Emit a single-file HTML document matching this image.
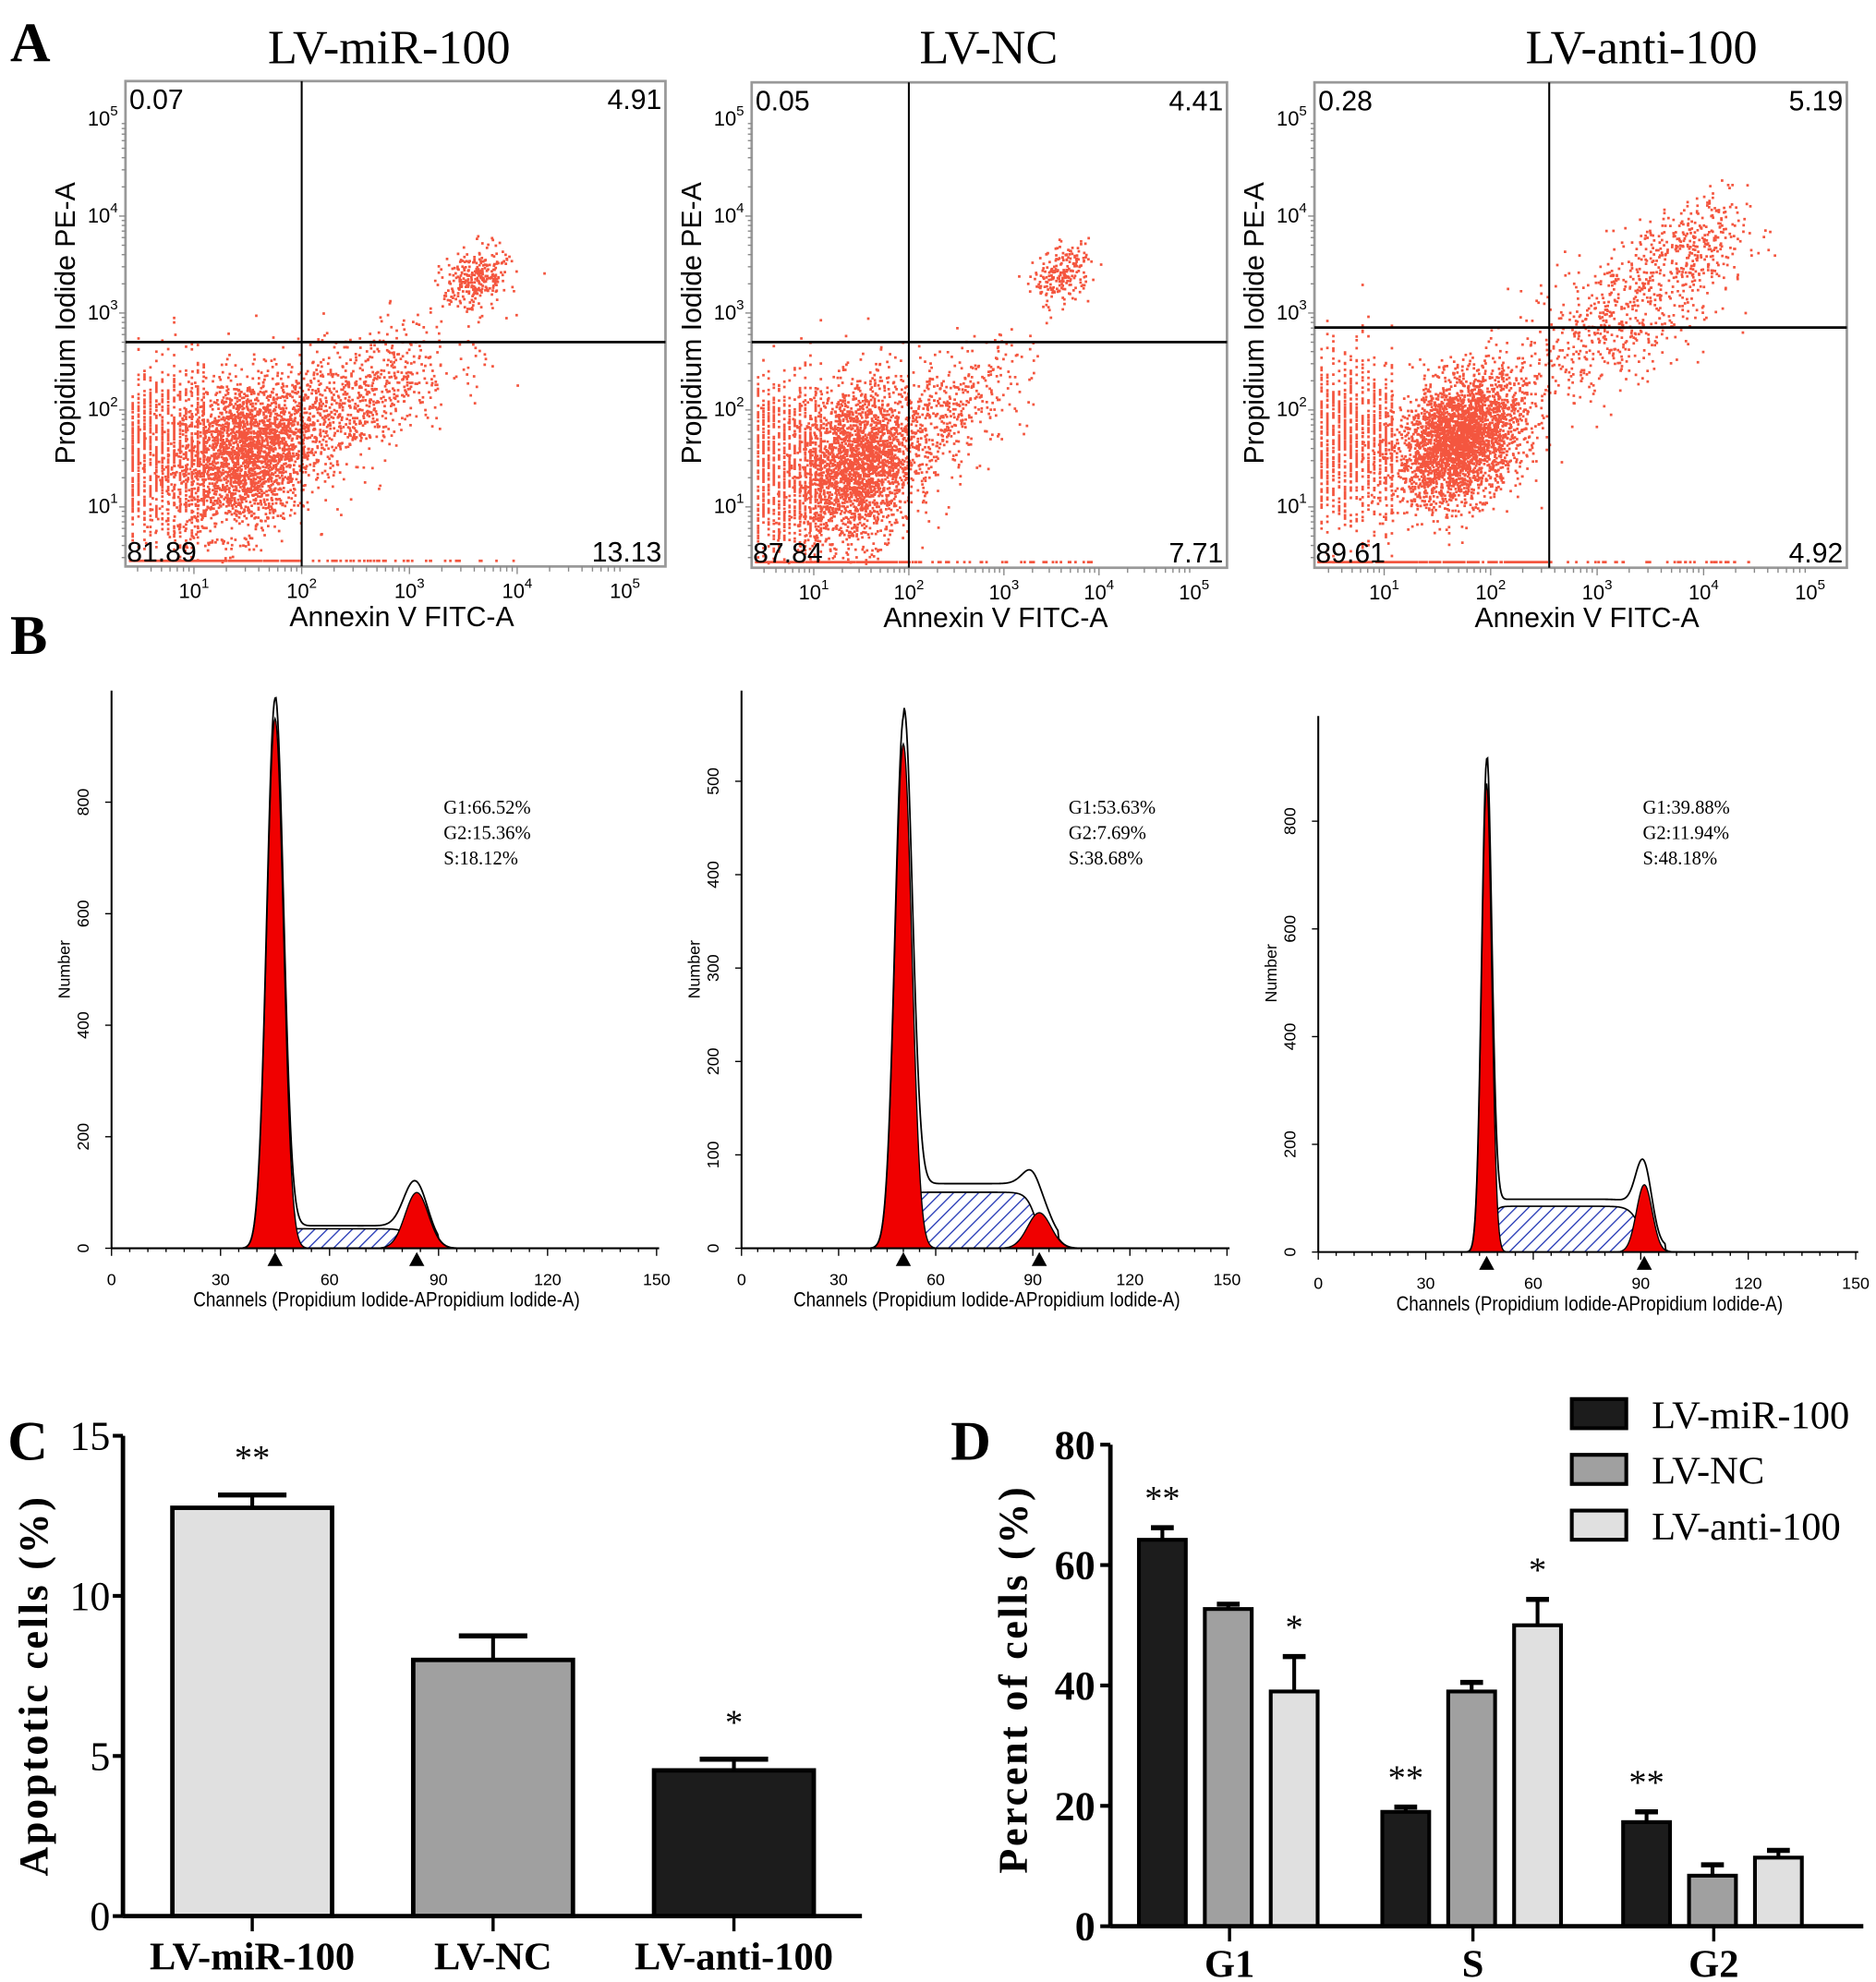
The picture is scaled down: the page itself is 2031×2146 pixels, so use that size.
<!DOCTYPE html>
<html><head><meta charset="utf-8"><style>
html,body{margin:0;padding:0;background:#fff;}
svg{display:block;}
.serif{font-family:"Liberation Serif",serif;}
.sans{font-family:"Liberation Sans",sans-serif;}
</style></head><body>
<svg id="fig" xmlns="http://www.w3.org/2000/svg" width="2031" height="2146" viewBox="0 0 1480 1564" preserveAspectRatio="none">
<defs>
<pattern id="hatch" patternUnits="userSpaceOnUse" width="7" height="7" patternTransform="rotate(45)">
<rect width="7" height="7" fill="#fff"/><line x1="0" y1="0" x2="0" y2="7" stroke="#2b3fb8" stroke-width="2"/>
</pattern>
</defs>
<text class="serif" x="8" y="48" font-size="44" font-weight="bold">A</text>
<text class="serif" x="8" y="516" font-size="44" font-weight="bold">B</text>
<text class="serif" x="6" y="1152" font-size="44" font-weight="bold">C</text>
<text class="serif" x="750" y="1152" font-size="44" font-weight="bold">D</text>
<g id="panelA"></g>
<g id="panelB"></g>
<g id="panelC"></g>
<g id="panelD"></g>
</svg>
<script>
// ---------- Panel A data ----------
const flowTitles = ["LV-miR-100", "LV-NC", "LV-anti-100"];
const flowQuadUL = ["0.07", "0.05", "0.28"];
const flowQuadUR = ["4.91", "4.41", "5.19"];
const flowQuadLL = ["81.89", "87.84", "89.61"];
const flowQuadLR = ["13.13", "7.71", "4.92"];
const flowGateX = [2.0, 2.0, 2.55];   // decades
const flowGateY = [2.7, 2.7, 2.85];
// clusters: [cx, cy, sx, sy, n, corr] in decades
const flowClusters1 = [[1.45,1.55,0.32,0.4,2300,0.2],[2.4,2.05,0.5,0.4,900,0.6],[3.6,3.35,0.15,0.17,300,0.3]];
const flowClusters2 = [[1.45,1.45,0.3,0.42,2300,0.2],[2.35,1.95,0.45,0.38,500,0.6],[3.6,3.4,0.15,0.15,220,0.3]];
const flowClusters3 = [[1.7,1.7,0.3,0.33,3000,0.3],[3.2,3.0,0.5,0.45,650,0.6],[3.9,3.7,0.25,0.25,250,0.3]];
const flowXTicks = ["10","10","10","10","10"];
const flowXTickExp = ["1","2","3","4","5"];

// ---------- Panel B data ----------
const histG1Text = ["G1:66.52%","G1:53.63%","G1:39.88%"];
const histG2Text = ["G2:15.36%","G2:7.69%","G2:11.94%"];
const histSText = ["S:18.12%","S:38.68%","S:48.18%"];
const histG1Mean = [45, 50, 47];
const histG1Sd = [2.3, 2.6, 1.4];
const histG1Height = [950, 540, 870];
const histG2Mean = [84, 92, 91];
const histG2Sd = [3.2, 3.6, 2.2];
const histG2Height = [100, 38, 125];
const histSHeight = [35, 60, 85];
const histXTicks = [0, 30, 60, 90, 120, 150];
const histYTicks1 = [0, 200, 400, 600, 800];
const histYTicks2 = [0, 100, 200, 300, 400, 500];
const histYTicks3 = [0, 200, 400, 600, 800];

// ---------- Panel C data ----------
const apoCategories = ["LV-miR-100", "LV-NC", "LV-anti-100"];
const apoValues = [12.75, 8.0, 4.55];
const apoErrors = [0.4, 0.75, 0.35];
const apoStars = ["**", "", "*"];
const apoYTicks = [0, 5, 10, 15];

// ---------- Panel D data ----------
const cycCategories = ["G1", "S", "G2"];
const cycSeries = ["LV-miR-100", "LV-NC", "LV-anti-100"];
const cycMiR = [64.2, 19.0, 17.3];
const cycNC = [52.7, 39.0, 8.4];
const cycAnti = [39.0, 50.0, 11.4];
const cycErrMiR = [2.0, 0.8, 1.7];
const cycErrNC = [0.8, 1.5, 1.8];
const cycErrAnti = [5.8, 4.3, 1.2];
const cycStarsMiR = ["**", "**", "**"];
const cycStarsNC = ["", "", ""];
const cycStarsAnti = ["*", "*", ""];
const cycYTicks = [0, 20, 40, 60, 80];

const NS = "http://www.w3.org/2000/svg";
function mk(tag, attrs, parent, text) {
  const e = document.createElementNS(NS, tag);
  for (const k in attrs) e.setAttribute(k, attrs[k]);
  if (text !== undefined) e.textContent = text;
  parent.appendChild(e);
  return e;
}
let seed = 12345;
function rnd() { seed = (seed * 1103515245 + 12345) % 2147483648; return seed / 2147483648; }
function gauss() { let u = rnd() || 1e-6, v = rnd(); return Math.sqrt(-2 * Math.log(u)) * Math.cos(2 * Math.PI * v); }

// ---------- Panel A ----------
const A = document.getElementById("panelA");
const flowBoxes = [
  {x0:99,x1:525,y0:64,y1:447,titleX:307,x1dec:153,ppdX:85},
  {x0:593,x1:968,y0:65,y1:448,titleX:780,x1dec:642,ppdX:75},
  {x0:1037,x1:1457,y0:65,y1:448,titleX:1295,x1dec:1092,ppdX:84}
];
const flowClusterSets = [flowClusters1, flowClusters2, flowClusters3];
flowBoxes.forEach((b, i) => {
  const g = mk("g", {}, A);
  
  
  const ppdY = 76.5;
  const yDec1 = 400;
  const sx = d => b.x1dec + (d - 1) * b.ppdX;
  const sy = d => yDec1 - (d - 1) * ppdY;
  const t = mk("text", {x: b.titleX, y: 50, "text-anchor": "middle", "font-size": 38, class: "serif"}, g, flowTitles[i]);
  
  
  const box = mk("rect", {x: b.x0, y: b.y0, width: b.x1 - b.x0, height: b.y1 - b.y0, fill: "#fff", stroke: "#999", "stroke-width": 2}, g);
  
  
  const dots = mk("g", {fill: "#f4563f"}, g);
  
  
  const xLo = 1 - (b.x1dec - b.x0) / b.ppdX, yLo = 1 - (b.y1 - yDec1) / ppdY;
  let path = "";
  const add = (dx, dy) => {
    const px = sx(dx), py = sy(dy);
    if (px < b.x0 + 2 || px > b.x1 - 2 || py < b.y0 + 2 || py > b.y1 - 4) return;
    path += "M" + px.toFixed(1) + " " + py.toFixed(1) + "h2v2h-2z";
  };
  flowClusterSets[i].forEach(c => {
    for (let k = 0; k < c[4]; k++) {
      const a = gauss(), bb = gauss();
      const dx = c[0] + c[2] * a;
      const dy = c[1] + c[3] * (c[5] * a + Math.sqrt(1 - c[5] * c[5]) * bb);
      add(dx, dy);
    }
  });
  const c1y = flowClusterSets[i][0][1];
  for (let k = 0; k < 1000; k++) {
    const dx = xLo + Math.floor(rnd() * 14) * 0.055;
    add(dx, c1y + 0.45 * gauss());
  }
  for (let k = 0; k < 250; k++) { add(xLo + rnd() * (flowGateX[i] - xLo) , yLo + 0.07); }
  for (let k = 0; k < 40; k++) { add(flowGateX[i] + rnd() * 2, yLo + 0.07); }
  mk("path", {d: path}, dots);
  const gx = sx(flowGateX[i]), gy = sy(flowGateY[i]);
  mk("line", {x1: gx, x2: gx, y1: b.y0, y2: b.y1, stroke: "#000", "stroke-width": 1.5}, g);
  mk("line", {x1: b.x0, x2: b.x1, y1: gy, y2: gy, stroke: "#000", "stroke-width": 2}, g);
  const ql = [[flowQuadUL[i], b.x0 + 3, b.y0 + 22, "start"], [flowQuadUR[i], b.x1 - 3, b.y0 + 22, "end"], [flowQuadLL[i], b.x0 + 1, b.y1 - 4, "start"], [flowQuadLR[i], b.x1 - 3, b.y1 - 4, "end"]];
  ql.forEach(q => {
    const e = mk("text", {x: q[1], y: q[2], "text-anchor": q[3], "font-size": 22, class: "sans"}, g, q[0]);
    
    
  });
  for (let d = 1; d <= 5; d++) {
    const y = sy(d);
    const e = mk("text", {x: b.x0 - 6, y: y + 5, "text-anchor": "end", "font-size": 16, class: "sans"}, g);
    
    
    mk("tspan", {}, e, "10");
    mk("tspan", {dy: -8, "font-size": 11}, e, String(d));
    for (let m = 1; m < 10; m++) {
      const yy = sy(d - 1 + Math.log10(m));
      if (yy > b.y0 && yy < b.y1) mk("line", {x1: b.x0 - (m===1?5:3), x2: b.x0, y1: yy, y2: yy, stroke: "#888", "stroke-width": 1}, g);
    }
  }
  for (let d = 1; d <= 5; d++) {
    const x = sx(d);
    const e = mk("text", {x: x, y: b.y1 + 25, "text-anchor": "middle", "font-size": 16, class: "sans"}, g);
    
    
    mk("tspan", {}, e, flowXTicks[d - 1]);
    mk("tspan", {dy: -8, "font-size": 11}, e, flowXTickExp[d - 1]);
    for (let m = 1; m < 10; m++) {
      const xx = sx(d - 1 + Math.log10(m));
      if (xx > b.x0 && xx < b.x1) mk("line", {x1: xx, x2: xx, y1: b.y1, y2: b.y1 + (m===1?6:4), stroke: "#888", "stroke-width": 1}, g);
    }
  }
  const xt = mk("text", {x: (b.x0 + b.x1) / 2 + 5, y: b.y1 + 47, "text-anchor": "middle", "font-size": 22, class: "sans"}, g, "Annexin V FITC-A");
  
  
  const yt = mk("text", {x: 0, y: 0, "text-anchor": "middle", "font-size": 22, class: "sans", transform: "translate(" + (b.x0 - 40) + ",255) rotate(-90)"}, g, "Propidium Iodide PE-A");
  
  
});

// ---------- Panel B ----------
const B = document.getElementById("panelB");
const histBoxes = [
  {x0:88,x1:518,yTop:545,y0:985,ppu:0.44,ticks:histYTicks1,txtX:350},
  {x0:585,x1:968,yTop:545,y0:985,ppu:0.737,ticks:histYTicks2,txtX:843},
  {x0:1040,x1:1464,yTop:565,y0:988,ppu:0.425,ticks:histYTicks3,txtX:1296}
];
const sig = z => 1 / (1 + Math.exp(-z));
histBoxes.forEach((b, i) => {
  const g = mk("g", {}, B);
  
  
  const sx = c => b.x0 + c * (b.x1 - b.x0) / 150;
  const sy = v => b.y0 - v * b.ppu;
  const g1 = c => histG1Height[i] * Math.exp(-0.5 * Math.pow((c - histG1Mean[i]) / histG1Sd[i], 2));
  const g2 = c => histG2Height[i] * Math.exp(-0.5 * Math.pow((c - histG2Mean[i]) / histG2Sd[i], 2));
  const s = c => histSHeight[i] * sig((c - histG1Mean[i] - 1) / 0.8) * sig((histG2Mean[i] - c - 1) / 1.5);
  const cs = []; for (let c = 20; c <= 120; c += 0.25) cs.push(c);
  const area = f => "M" + sx(cs[0]) + " " + b.y0 + cs.map(c => "L" + sx(c).toFixed(2) + " " + sy(f(c)).toFixed(2)).join("") + "L" + sx(cs[cs.length - 1]) + " " + b.y0 + "Z";
  const sp = mk("path", {d: area(s), fill: "url(#hatch)", stroke: "#000", "stroke-width": 1.2}, g);
  
  
  const p1 = mk("path", {d: area(g1), fill: "#f00000", stroke: "#000", "stroke-width": 1}, g);
  
  
  const p2 = mk("path", {d: area(g2), fill: "#f00000", stroke: "#000", "stroke-width": 1}, g);
  
  
  const tot = c => g1(c) + g2(c) + s(c) + (c > histG1Mean[i] && c < histG2Mean[i] + 6 ? histSHeight[i] * 0.12 : 0);
  const outline = "M" + cs.map(c => sx(c).toFixed(2) + " " + sy(tot(c) * 1.03).toFixed(2)).join("L");
  const ol = mk("path", {d: outline, fill: "none", stroke: "#000", "stroke-width": 1.3}, g);
  
  
  mk("line", {x1: b.x0, x2: b.x0, y1: b.yTop, y2: b.y0, stroke: "#000", "stroke-width": 1.5}, g);
  mk("line", {x1: b.x0, x2: b.x1 + 2, y1: b.y0, y2: b.y0, stroke: "#000", "stroke-width": 1.5}, g);
  for (let c = 0; c <= 150; c += 5) mk("line", {x1: sx(c), x2: sx(c), y1: b.y0, y2: b.y0 + (c % 30 === 0 ? 6 : 3), stroke: "#000", "stroke-width": 1}, g);
  histXTicks.forEach(c => {
    const e = mk("text", {x: sx(c), y: b.y0 + 29, "text-anchor": "middle", "font-size": 13, class: "sans"}, g, String(c));
    
    
  });
  b.ticks.forEach(v => {
    mk("line", {x1: b.x0 - 5, x2: b.x0, y1: sy(v), y2: sy(v), stroke: "#000", "stroke-width": 1}, g);
    const e = mk("text", {x: 0, y: 0, "text-anchor": "middle", "font-size": 13, class: "sans", transform: "translate(" + (b.x0 - 18) + "," + sy(v) + ") rotate(-90)"}, g, String(v));
    
    
  });
  const yt = mk("text", {x: 0, y: 0, "text-anchor": "middle", "font-size": 13, class: "sans", transform: "translate(" + (b.x0 - 33) + "," + (b.y0 - 220) + ") rotate(-90)"}, g, "Number");
  
  
  const xt = mk("text", {x: (b.x0 + b.x1) / 2 + 2, y: b.y0 + 46, "text-anchor": "middle", "font-size": 16, class: "sans", textLength: 305, lengthAdjust: "spacingAndGlyphs"}, g, "Channels (Propidium Iodide-APropidium Iodide-A)");
  
  
  [histG1Text[i], histG2Text[i], histSText[i]].forEach((t, k) => {
    const e = mk("text", {x: b.txtX, y: 642 + k * 20, "font-size": 15, class: "serif"}, g, t);
    
    
  });
  [histG1Mean[i], histG2Mean[i]].forEach(m => {
    const x = sx(m);
    const tr = mk("path", {d: "M" + (x - 6) + " " + (b.y0 + 14) + "L" + (x + 6) + " " + (b.y0 + 14) + "L" + x + " " + (b.y0 + 3) + "Z", fill: "#000"}, g);
    
    
  });
});

// ---------- Panel C ----------
const C = document.getElementById("panelC");
(function () {
  const x0 = 97, y0 = 1512, yTop = 1133, ppu = 25.27;
  const sy = v => y0 - v * ppu;
  const centers = [199, 389, 579], bw = 126;
  const fills = ["#e0e0e0", "#a0a0a0", "#1c1c1c"];
  apoValues.forEach((v, i) => {
    const cx = centers[i];
    const eb = mk("line", {x1: cx, x2: cx, y1: sy(v), y2: sy(v + apoErrors[i]), stroke: "#000", "stroke-width": 3}, C);
    
    
    mk("line", {x1: cx - 27, x2: cx + 27, y1: sy(v + apoErrors[i]), y2: sy(v + apoErrors[i]), stroke: "#000", "stroke-width": 4}, C);
    const r = mk("rect", {x: cx - bw / 2, y: sy(v), width: bw, height: y0 - sy(v), fill: fills[i], stroke: "#000", "stroke-width": 3.5}, C);
    
    
    if (apoStars[i]) {
      const s = mk("text", {x: cx, y: sy(v + apoErrors[i]) - 20, "text-anchor": "middle", "font-size": 28, class: "serif"}, C, apoStars[i]);
      
      
    }
    mk("line", {x1: cx, x2: cx, y1: y0, y2: y0 + 12, stroke: "#000", "stroke-width": 2.5}, C);
    const l = mk("text", {x: cx, y: y0 + 42, "text-anchor": "middle", "font-size": 31, "font-weight": "bold", class: "serif"}, C, apoCategories[i]);
    
    
  });
  mk("line", {x1: x0, x2: x0, y1: yTop, y2: y0, stroke: "#000", "stroke-width": 3.5}, C);
  mk("line", {x1: x0, x2: 680, y1: y0, y2: y0, stroke: "#000", "stroke-width": 3.5}, C);
  apoYTicks.forEach(v => {
    mk("line", {x1: x0 - 8, x2: x0, y1: sy(v), y2: sy(v), stroke: "#000", "stroke-width": 3}, C);
    const e = mk("text", {x: x0 - 10, y: sy(v) + 11, "text-anchor": "end", "font-size": 32, class: "serif"}, C, String(v));
    
    
  });
  const yt = mk("text", {x: 0, y: 0, "text-anchor": "middle", "font-size": 32, "font-weight": "bold", "letter-spacing": 2, class: "serif", transform: "translate(37,1330) rotate(-90)"}, C, "Apoptotic cells (%)");
  
  
})();

// ---------- Panel D ----------
const D = document.getElementById("panelD");
(function () {
  const x0 = 876, y0 = 1520, yTop = 1140, ppu = 4.75;
  const sy = v => y0 - v * ppu;
  const groupCenters = [970, 1162, 1352], offs = [-50, 2, 54], bw = 37;
  const fills = ["#1c1c1c", "#a0a0a0", "#e0e0e0"];
  const vals = [cycMiR, cycNC, cycAnti], errs = [cycErrMiR, cycErrNC, cycErrAnti], stars = [cycStarsMiR, cycStarsNC, cycStarsAnti];
  cycCategories.forEach((cat, gi) => {
    vals.forEach((arr, si) => {
      const cx = groupCenters[gi] + offs[si] - 3, v = arr[gi], e = errs[si][gi];
      mk("line", {x1: cx, x2: cx, y1: sy(v), y2: sy(v + e), stroke: "#000", "stroke-width": 3}, D);
      mk("line", {x1: cx - 9, x2: cx + 9, y1: sy(v + e), y2: sy(v + e), stroke: "#000", "stroke-width": 4}, D);
      const r = mk("rect", {x: cx - bw / 2, y: sy(v), width: bw, height: y0 - sy(v), fill: fills[si], stroke: "#000", "stroke-width": 3}, D);
      
      
      if (stars[si][gi]) {
        const s = mk("text", {x: cx, y: sy(v + e) - 14, "text-anchor": "middle", "font-size": 28, class: "serif"}, D, stars[si][gi]);
        
        
      }
    });
    mk("line", {x1: groupCenters[gi], x2: groupCenters[gi], y1: y0, y2: y0 + 12, stroke: "#000", "stroke-width": 2.5}, D);
    const l = mk("text", {x: groupCenters[gi], y: y0 + 40, "text-anchor": "middle", "font-size": 31, "font-weight": "bold", class: "serif"}, D, cat);
    
    
  });
  mk("line", {x1: x0, x2: x0, y1: yTop, y2: y0, stroke: "#000", "stroke-width": 3.5}, D);
  mk("line", {x1: x0, x2: 1470, y1: y0, y2: y0, stroke: "#000", "stroke-width": 3.5}, D);
  cycYTicks.forEach(v => {
    mk("line", {x1: x0 - 8, x2: x0, y1: sy(v), y2: sy(v), stroke: "#000", "stroke-width": 3}, D);
    const e = mk("text", {x: x0 - 12, y: sy(v) + 11, "text-anchor": "end", "font-size": 32, "font-weight": "bold", class: "serif"}, D, String(v));
    
    
  });
  const yt = mk("text", {x: 0, y: 0, "text-anchor": "middle", "font-size": 32, "font-weight": "bold", "letter-spacing": 2, class: "serif", transform: "translate(810,1325) rotate(-90)"}, D, "Percent of cells (%)");
  
  
  cycSeries.forEach((s, i) => {
    const lg = mk("g", {}, D);
    
    
    mk("rect", {x: 1240, y: 1104 + i * 44, width: 43, height: 23, fill: fills[i], stroke: "#000", "stroke-width": 3}, lg);
    mk("text", {x: 1303, y: 1127 + i * 44, "font-size": 31, class: "serif"}, lg, s);
  });
})();
</script>
</body></html>
